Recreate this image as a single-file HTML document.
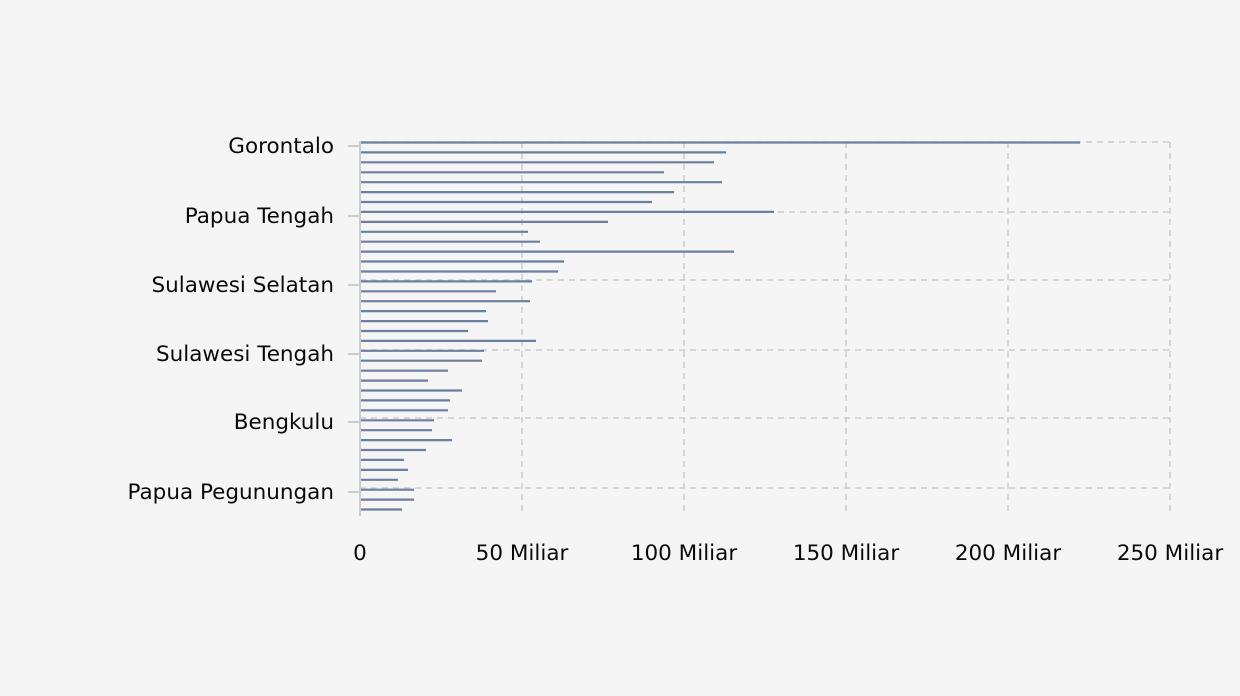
<!DOCTYPE html><html><head><style>body{margin:0;background:#f5f5f5}svg{display:block}text{font-family:"DejaVu Sans",sans-serif;font-size:21.5px;fill:#0a0a0a}</style></head><body>
<svg width="1240" height="696" viewBox="0 0 1240 696">
<rect width="1240" height="696" fill="#f5f5f5"/>
<g stroke="#ccc" stroke-width="1.5" stroke-dasharray="6,5">
<line x1="522" y1="142" x2="522" y2="516"/><line x1="684" y1="142" x2="684" y2="516"/><line x1="846" y1="142" x2="846" y2="516"/><line x1="1008" y1="142" x2="1008" y2="516"/><line x1="1170" y1="142" x2="1170" y2="516"/>
<line x1="360" y1="142" x2="1170" y2="142"/><line x1="360" y1="212" x2="1170" y2="212"/><line x1="360" y1="280" x2="1170" y2="280"/><line x1="360" y1="350" x2="1170" y2="350"/><line x1="360" y1="418" x2="1170" y2="418"/><line x1="360" y1="488" x2="1170" y2="488"/>
</g>
<g stroke="#ccc" stroke-width="2"><line x1="360" y1="141" x2="360" y2="516"/>
<line x1="348" y1="146" x2="360" y2="146"/><line x1="348" y1="216" x2="360" y2="216"/><line x1="348" y1="285" x2="360" y2="285"/><line x1="348" y1="354" x2="360" y2="354"/><line x1="348" y1="422" x2="360" y2="422"/><line x1="348" y1="492" x2="360" y2="492"/></g>
<g id="b" stroke="#6b7f9e" stroke-width="2.2"></g>
<g text-anchor="end"><text x="334" y="153">Gorontalo</text><text x="334" y="223">Papua Tengah</text><text x="334" y="292">Sulawesi Selatan</text><text x="334" y="361">Sulawesi Tengah</text><text x="334" y="429">Bengkulu</text><text x="334" y="499">Papua Pegunungan</text></g>
<g text-anchor="middle"><text x="360" y="560">0</text><text x="522" y="560">50 Miliar</text><text x="684" y="560">100 Miliar</text><text x="846" y="560">150 Miliar</text><text x="1008" y="560">200 Miliar</text><text x="1170" y="560">250 Miliar</text></g>
</svg>
<script>
var e=[1080,726,714,664,722,674,652,774,608,528,540,734,564,558,532,496,530,486,488,468,536,484,482,448,428,462,450,448,434,432,452,426,404,408,398,414,414,402];
var g=document.getElementById('b'),s='';
e.forEach(function(x,i){var y=(142.5+i*9.92).toFixed(1);s+='<line x1="361" y1="'+y+'" x2="'+x+'" y2="'+y+'"/>';});
g.innerHTML=s;
</script>
</body></html>
